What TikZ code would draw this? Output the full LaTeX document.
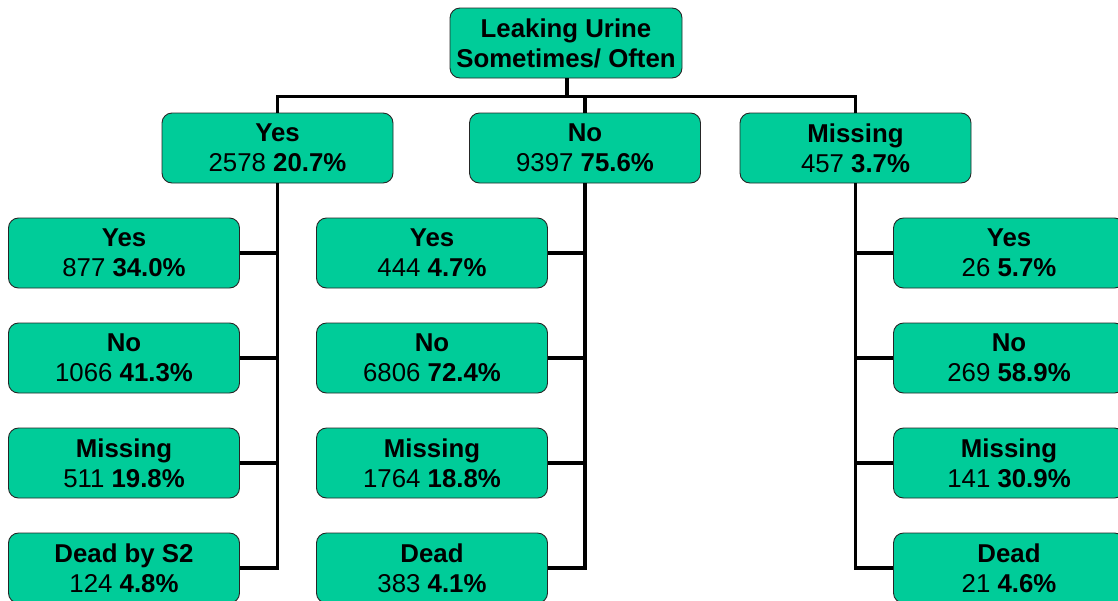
\documentclass[tikz,border=0pt]{standalone}
\usepackage{fontspec}
\setmainfont{Liberation Sans}
\definecolor{boxgreen}{RGB}{0,204,153}
\begin{document}
\begin{tikzpicture}[x=1pt,y=-1pt,
  box/.style={draw=black!85, line width=0.9pt, fill=boxgreen, rounded corners=10pt,
    minimum width=231pt, minimum height=70pt, inner sep=0pt, align=center,
    font=\fontsize{25.8}{30}\selectfont},
  conn/.style={line width=3.4pt, black}]
\useasboundingbox (0,0) rectangle (1118,600);
% level 0
\node[box, minimum width=232pt] (root) at (566,43) {\textbf{Leaking Urine}\\\textbf{Sometimes/ Often}};
% level 1
\node[box] (yes) at (277.5,148) {\textbf{Yes}\\2578 \textbf{20.7\%}};
\node[box] (no) at (585,148) {\textbf{No}\\9397 \textbf{75.6\%}};
\node[box] (mis) at (855.5,148) {\textbf{Missing}\\457 \textbf{3.7\%}};
% level 2 left
\node[box] (y1) at (124,253) {\textbf{Yes}\\877 \textbf{34.0\%}};
\node[box] (y2) at (124,358) {\textbf{No}\\1066 \textbf{41.3\%}};
\node[box] (y3) at (124,463) {\textbf{Missing}\\511 \textbf{19.8\%}};
\node[box] (y4) at (124,568) {\textbf{Dead by S2}\\124 \textbf{4.8\%}};
% level 2 middle
\node[box] (n1) at (432,253) {\textbf{Yes}\\444 \textbf{4.7\%}};
\node[box] (n2) at (432,358) {\textbf{No}\\6806 \textbf{72.4\%}};
\node[box] (n3) at (432,463) {\textbf{Missing}\\1764 \textbf{18.8\%}};
\node[box] (n4) at (432,568) {\textbf{Dead}\\383 \textbf{4.1\%}};
% level 2 right
\node[box] (m1) at (1009,253) {\textbf{Yes}\\26 \textbf{5.7\%}};
\node[box] (m2) at (1009,358) {\textbf{No}\\269 \textbf{58.9\%}};
\node[box] (m3) at (1009,463) {\textbf{Missing}\\141 \textbf{30.9\%}};
\node[box] (m4) at (1009,568) {\textbf{Dead}\\21 \textbf{4.6\%}};
% connectors level 0 -> 1
\coordinate (bus) at (567,96.5);
\draw[conn] (root.south -| bus) -- (bus);
\draw[conn] (yes.north) |- (bus) -| (mis.north);
\draw[conn] (no.north) -- (no.north |- bus);
% left column
\draw[conn] (yes.south) |- (y4.east);
\draw[conn] (y1.east) -- (y1.east -| yes.south);
\draw[conn] (y2.east) -- (y2.east -| yes.south);
\draw[conn] (y3.east) -- (y3.east -| yes.south);
% middle column
\draw[conn] (no.south) |- (n4.east);
\draw[conn] (n1.east) -- (n1.east -| no.south);
\draw[conn] (n2.east) -- (n2.east -| no.south);
\draw[conn] (n3.east) -- (n3.east -| no.south);
% right column
\draw[conn] (mis.south) |- (m4.west);
\draw[conn] (m1.west) -- (m1.west -| mis.south);
\draw[conn] (m2.west) -- (m2.west -| mis.south);
\draw[conn] (m3.west) -- (m3.west -| mis.south);
\end{tikzpicture}
\end{document}
